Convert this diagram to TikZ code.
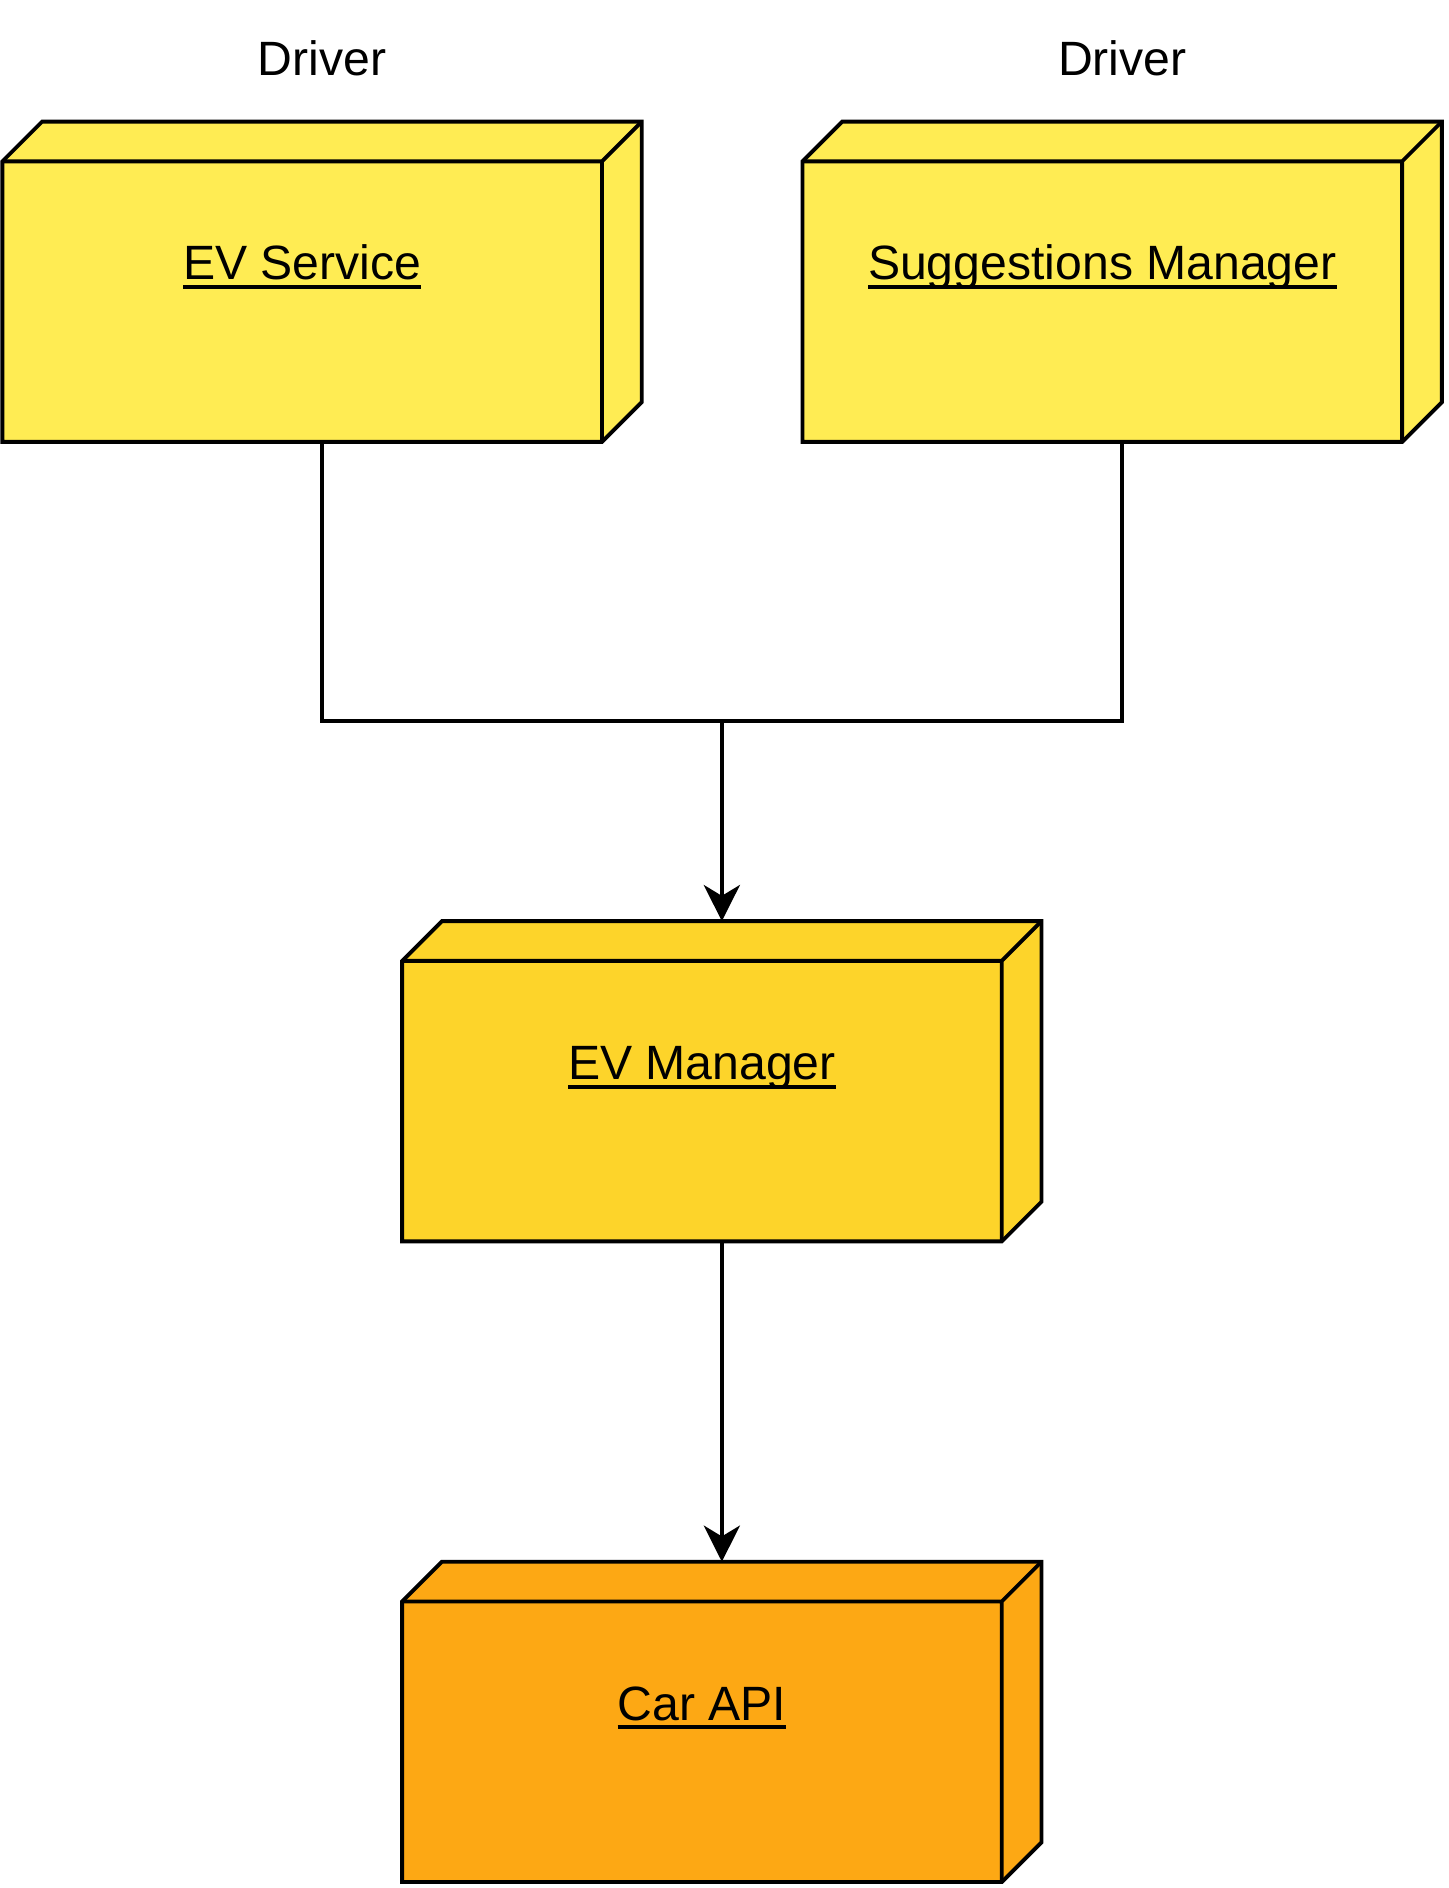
\documentclass[tikz,border=0pt]{standalone}
\usepackage{fontspec}
\setmainfont{Liberation Sans}
\usetikzlibrary{calc,arrows.meta}

\definecolor{evyellow}{HTML}{FFEC53}
\definecolor{evgold}{HTML}{FDD42A}
\definecolor{carorange}{HTML}{FDA814}

% underline at a fixed depth, through the descenders
\newcommand{\nodeuline}[1]{\setbox0\hbox{#1}\rlap{\rule[-7.5pt]{\wd0}{3pt}}\box0}

% 3d outline of a deployment node: #1 node name, #2 fill
\newcommand{\nodefaces}[2]{%
  \filldraw[fill=#2] (#1.south west) -- ($(#1.north west)+(0,33)$) -- ($(#1.north west)+(33,0)$)
    -- (#1.north east) -- ($(#1.south east)+(0,-33)$) -- ($(#1.south east)+(-33,0)$) -- cycle;
  \draw ($(#1.north west)+(0,33)$) -- ($(#1.north east)+(-33,33)$) -- (#1.north east)
    ($(#1.north east)+(-33,33)$) -- ($(#1.south east)+(-33,0)$);
}

\tikzset{
  depnode/.style={draw=none, inner sep=0pt, outer sep=0pt, minimum width=531pt, minimum height=266pt},
  deplabel/.style={anchor=base, inner sep=0pt},
  flow/.style={-{Stealth[length=30pt,width=30pt,inset=9pt]}},
}

\begin{document}
\begin{tikzpicture}[x=1pt, y=-1pt, line width=3.2pt, line join=miter,
  every node/.style={font=\fontsize{40}{48}\selectfont}]
  \useasboundingbox (0,0) rectangle (1203,1568);

  \node[depnode] (evs) at (267.5,234) {};
  \node[depnode] (sugg) at (932,234) {};
  \node[depnode] (evm) at (599.5,898) {};
  \node[depnode] (carapi) at (599.5,1430) {};

  \nodefaces{evs}{evyellow}
  \nodefaces{sugg}{evyellow}
  \nodefaces{evm}{evgold}
  \nodefaces{carapi}{carorange}

  \node[deplabel] (evsname) at ($(evs.north west)+(249,131.5)$) {\nodeuline{EV Service}};
  \node[deplabel] (suggname) at ($(sugg.north west)+(249,131.5)$) {\nodeuline{Suggestions Manager}};
  \node[deplabel] (evmname) at ($(evm.north west)+(249,131.5)$) {\nodeuline{EV Manager}};
  \node[deplabel] (carname) at ($(carapi.north west)+(249,131.5)$) {\nodeuline{Car API}};

  \node[deplabel] (drv1) at ($(evs.north)+(0,-38)$) {Driver};
  \node[deplabel] (drv2) at ($(sugg.north)+(0,-38)$) {Driver};

  % connectors
  \coordinate (join) at (599.5,599);
  \draw (evs.south) |- (join);
  \draw (sugg.south) |- (join);
  \draw[flow] (join) -- (evm.north);
  \draw[flow] (evm.south) -- (carapi.north);
\end{tikzpicture}
\end{document}
